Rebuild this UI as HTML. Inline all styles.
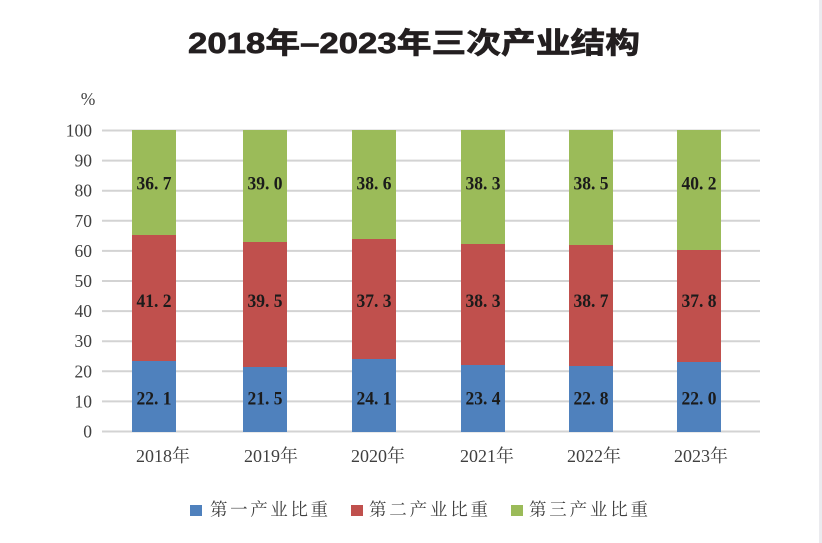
<!DOCTYPE html>
<html><head><meta charset="utf-8"><style>
html,body{margin:0;padding:0;background:#fff;}
svg{display:block;}
.tk{font-family:"Liberation Serif","Noto Serif CJK SC",serif;font-size:17.5px;fill:#404040;}
.lb{font-family:"Liberation Serif","Noto Serif CJK SC",serif;font-size:19px;font-weight:bold;fill:#1b1b1b;}
.cat{font-family:"Liberation Serif","Noto Serif CJK SC",serif;font-size:18px;fill:#404040;}
.lg{font-family:"Liberation Serif","Noto Serif CJK SC",serif;font-size:17.5px;fill:#404040;}
.tt{font-family:"Liberation Sans","Noto Sans CJK SC",sans-serif;font-size:29px;font-weight:bold;fill:#231f20;stroke:#231f20;stroke-width:0.7px;}
</style></head><body>
<svg width="822" height="543" viewBox="0 0 822 543" xmlns="http://www.w3.org/2000/svg">
<rect x="0" y="0" width="822" height="543" fill="#fff"/>
<rect x="819" y="0" width="3" height="543" fill="#ebebef"/>
<text class="tt" x="188" y="53" textLength="452" lengthAdjust="spacingAndGlyphs">2018年–2023年三次产业结构</text>
<text class="tk" x="88" y="105" text-anchor="middle">%</text>
<g stroke="#d3d3d3" stroke-width="2">
<line x1="102" y1="130.5" x2="760" y2="130.5"/>
<line x1="102" y1="160.6" x2="760" y2="160.6"/>
<line x1="102" y1="190.7" x2="760" y2="190.7"/>
<line x1="102" y1="220.8" x2="760" y2="220.8"/>
<line x1="102" y1="250.9" x2="760" y2="250.9"/>
<line x1="102" y1="281" x2="760" y2="281"/>
<line x1="102" y1="311.1" x2="760" y2="311.1"/>
<line x1="102" y1="341.2" x2="760" y2="341.2"/>
<line x1="102" y1="371.3" x2="760" y2="371.3"/>
<line x1="102" y1="401.4" x2="760" y2="401.4"/>
<line x1="102" y1="431.5" x2="760" y2="431.5"/>
</g>
<g class="tk" text-anchor="end">
<text x="92" y="136.5">100</text>
<text x="92" y="166.6">90</text>
<text x="92" y="196.7">80</text>
<text x="92" y="226.8">70</text>
<text x="92" y="256.9">60</text>
<text x="92" y="287">50</text>
<text x="92" y="317.1">40</text>
<text x="92" y="347.2">30</text>
<text x="92" y="377.3">20</text>
<text x="92" y="407.4">10</text>
<text x="92" y="437.5">0</text>
</g>
<g>
<rect x="132" y="130" width="44" height="105" fill="#9bbb59"/><rect x="132" y="235" width="44" height="126" fill="#c0504d"/><rect x="132" y="361" width="44" height="71" fill="#4f81bd"/>
<rect x="243" y="130" width="44" height="112" fill="#9bbb59"/><rect x="243" y="242" width="44" height="125" fill="#c0504d"/><rect x="243" y="367" width="44" height="65" fill="#4f81bd"/>
<rect x="352" y="130" width="44" height="109" fill="#9bbb59"/><rect x="352" y="239" width="44" height="120" fill="#c0504d"/><rect x="352" y="359" width="44" height="73" fill="#4f81bd"/>
<rect x="461" y="130" width="44" height="114" fill="#9bbb59"/><rect x="461" y="244" width="44" height="121" fill="#c0504d"/><rect x="461" y="365" width="44" height="67" fill="#4f81bd"/>
<rect x="569" y="130" width="44" height="115" fill="#9bbb59"/><rect x="569" y="245" width="44" height="121" fill="#c0504d"/><rect x="569" y="366" width="44" height="66" fill="#4f81bd"/>
<rect x="677" y="130" width="44" height="120" fill="#9bbb59"/><rect x="677" y="250" width="44" height="112" fill="#c0504d"/><rect x="677" y="362" width="44" height="70" fill="#4f81bd"/>
</g>
<g class="lb" text-anchor="middle">
<text x="154" y="189.5" textLength="35" lengthAdjust="spacingAndGlyphs">36. 7</text>
<text x="265" y="189.5" textLength="35" lengthAdjust="spacingAndGlyphs">39. 0</text>
<text x="374" y="189.5" textLength="35" lengthAdjust="spacingAndGlyphs">38. 6</text>
<text x="483" y="189.5" textLength="35" lengthAdjust="spacingAndGlyphs">38. 3</text>
<text x="591" y="189.5" textLength="35" lengthAdjust="spacingAndGlyphs">38. 5</text>
<text x="699" y="189.5" textLength="35" lengthAdjust="spacingAndGlyphs">40. 2</text>
<text x="154" y="307" textLength="35" lengthAdjust="spacingAndGlyphs">41. 2</text>
<text x="265" y="307" textLength="35" lengthAdjust="spacingAndGlyphs">39. 5</text>
<text x="374" y="307" textLength="35" lengthAdjust="spacingAndGlyphs">37. 3</text>
<text x="483" y="307" textLength="35" lengthAdjust="spacingAndGlyphs">38. 3</text>
<text x="591" y="307" textLength="35" lengthAdjust="spacingAndGlyphs">38. 7</text>
<text x="699" y="307" textLength="35" lengthAdjust="spacingAndGlyphs">37. 8</text>
<text x="154" y="404.5" textLength="35" lengthAdjust="spacingAndGlyphs">22. 1</text>
<text x="265" y="404.5" textLength="35" lengthAdjust="spacingAndGlyphs">21. 5</text>
<text x="374" y="404.5" textLength="35" lengthAdjust="spacingAndGlyphs">24. 1</text>
<text x="483" y="404.5" textLength="35" lengthAdjust="spacingAndGlyphs">23. 4</text>
<text x="591" y="404.5" textLength="35" lengthAdjust="spacingAndGlyphs">22. 8</text>
<text x="699" y="404.5" textLength="35" lengthAdjust="spacingAndGlyphs">22. 0</text>
</g>
<g class="cat" text-anchor="middle">
<text x="163" y="462" textLength="54" lengthAdjust="spacingAndGlyphs">2018年</text>
<text x="271" y="462" textLength="54" lengthAdjust="spacingAndGlyphs">2019年</text>
<text x="378" y="462" textLength="54" lengthAdjust="spacingAndGlyphs">2020年</text>
<text x="487" y="462" textLength="54" lengthAdjust="spacingAndGlyphs">2021年</text>
<text x="594" y="462" textLength="54" lengthAdjust="spacingAndGlyphs">2022年</text>
<text x="701" y="462" textLength="54" lengthAdjust="spacingAndGlyphs">2023年</text>
</g>
<rect x="190" y="505" width="12" height="11" fill="#4f81bd"/>
<text class="lg" x="210" y="515.5" textLength="118" lengthAdjust="spacing">第一产业比重</text>
<rect x="351" y="505" width="12" height="11" fill="#c0504d"/>
<text class="lg" x="369" y="515.5" textLength="119" lengthAdjust="spacing">第二产业比重</text>
<rect x="511" y="505" width="12" height="11" fill="#9bbb59"/>
<text class="lg" x="529" y="515.5" textLength="119" lengthAdjust="spacing">第三产业比重</text>
</svg>
</body></html>
